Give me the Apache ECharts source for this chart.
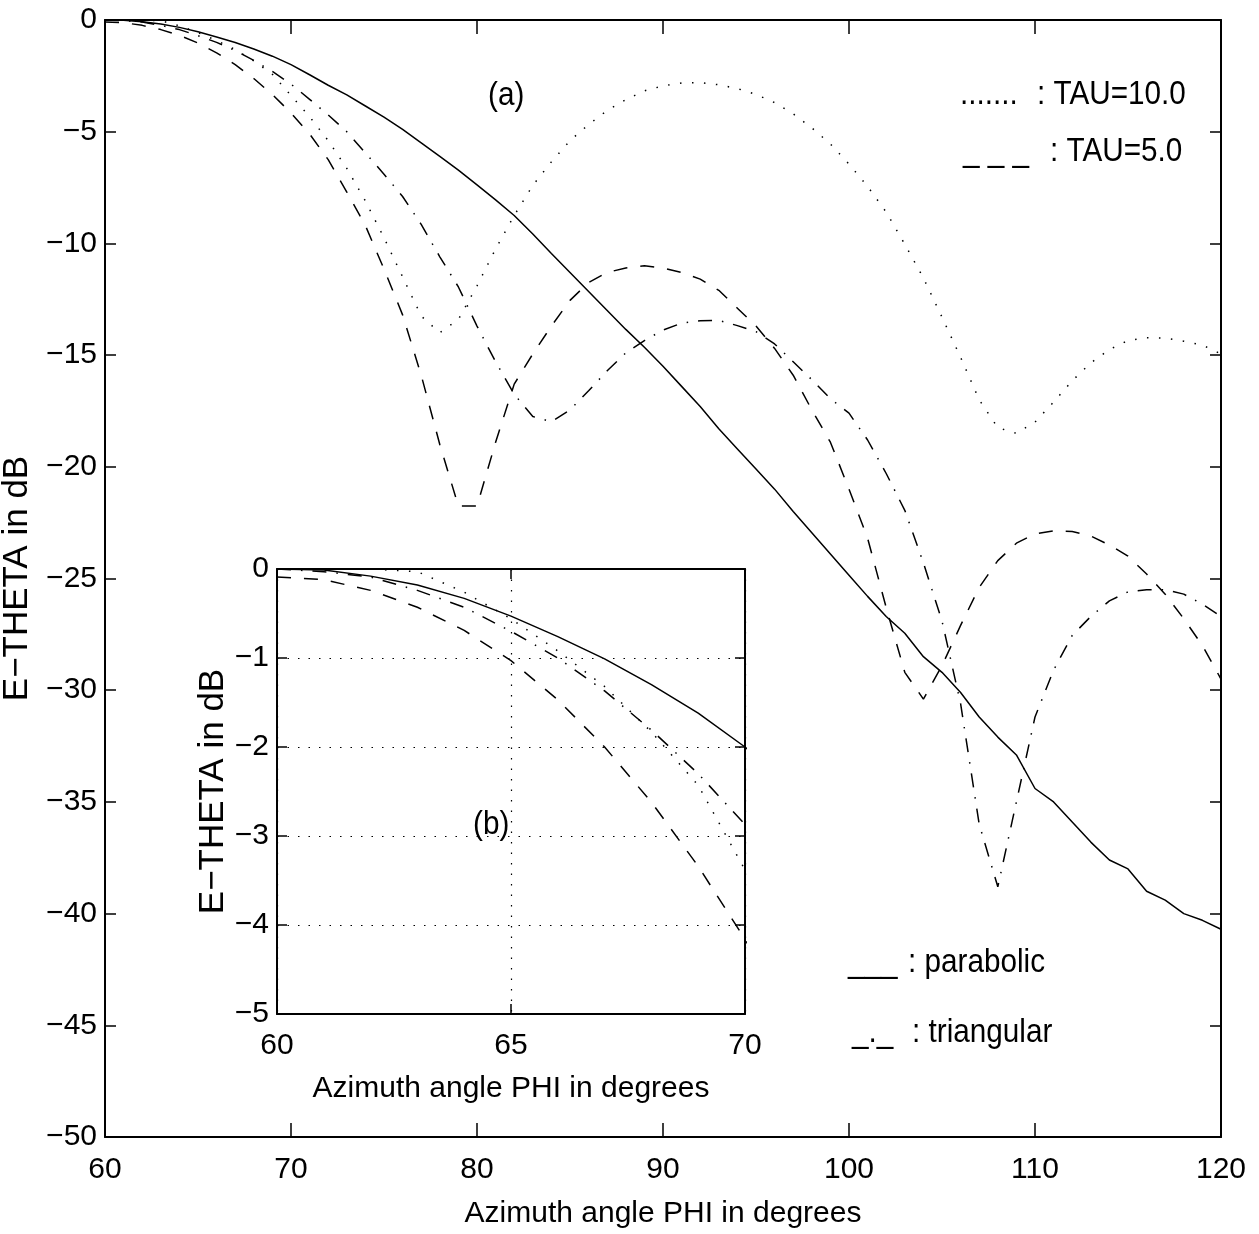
<!DOCTYPE html>
<html>
<head>
<meta charset="utf-8">
<script src="https://cdn.jsdelivr.net/npm/echarts@6/dist/echarts.min.js"></script>
<style>
html,body{margin:0;padding:0;background:#fff;}
#chart{width:1259px;height:1234px;}
</style>
</head>
<body>
<div id="chart"></div>
<script>
// Azimuth angle PHI (degrees)
var phi = [60,61,62,63,64,65,66,67,68,69,70,71,72,73,74,75,76,77,78,79,80,81,82,83,84,85,86,87,88,89,90,
           91,92,93,94,95,96,97,98,99,100,101,102,103,104,105,106,107,108,109,110,111,112,113,114,115,116,117,118,119,120];
// E-THETA in dB, solid curve (parabolic)
var parabolic = [0,-0.01,-0.08,-0.18,-0.33,-0.53,-0.76,-1.01,-1.3,-1.62,-2.0,-2.45,-2.92,-3.35,-3.85,-4.35,-4.9,-5.5,-6.1,-6.72,-7.38,
                 -8.05,-8.75,-9.58,-10.45,-11.3,-12.15,-13.0,-13.85,-14.65,-15.5,-16.4,-17.3,-18.3,-19.2,-20.1,-21.0,-22.0,-22.95,-23.9,-24.85,
                 -25.8,-26.7,-27.45,-28.5,-29.2,-30.1,-31.2,-32.1,-32.9,-34.4,-35.0,-35.9,-36.8,-37.6,-38.0,-39.0,-39.4,-40.0,-40.3,-40.7];
// dotted curve (TAU=10.0)
var tau10 = [0,0,0,-0.03,-0.26,-0.56,-0.92,-1.32,-1.83,-2.43,-3.38,-4.33,-5.4,-6.64,-8.1,-9.75,-11.5,-13.25,-14.0,-13.4,-11.9,
             -10.25,-8.75,-7.4,-6.35,-5.4,-4.68,-4.05,-3.57,-3.17,-2.95,-2.82,-2.8,-2.9,-3.07,-3.33,-3.7,-4.2,-4.83,-5.55,-6.45,
             -7.45,-8.6,-10.04,-11.55,-13.3,-15.1,-17.0,-18.25,-18.5,-18.0,-17.1,-16.15,-15.35,-14.75,-14.35,-14.22,-14.24,-14.38,-14.55,-14.95];
// dashed curve (TAU=5.0)
var tau5 = [-0.09,-0.12,-0.24,-0.43,-0.69,-1.03,-1.47,-2.0,-2.62,-3.34,-4.16,-5.1,-6.25,-7.7,-9.2,-11.15,-13.2,-15.9,-19.0,-21.76,-21.76,
            -18.9,-16.3,-14.95,-13.7,-12.55,-11.75,-11.3,-11.1,-11.0,-11.1,-11.3,-11.6,-12.1,-12.9,-13.7,-14.7,-15.9,-17.45,-18.9,-21.0,
            -23.2,-26.3,-29.2,-30.4,-28.9,-27.1,-25.4,-24.2,-23.42,-23.0,-22.87,-22.9,-23.1,-23.5,-24.0,-24.8,-25.7,-26.8,-28.0,-29.5];
// dash-dot curve (triangular)
var triangular = [0,-0.03,-0.09,-0.24,-0.43,-0.70,-1.0,-1.37,-1.81,-2.3,-2.87,-3.55,-4.25,-5.0,-5.95,-6.9,-7.9,-9.15,-10.6,-11.95,-13.7,
                  -15.3,-16.75,-17.75,-17.98,-17.45,-16.6,-15.7,-14.9,-14.35,-13.88,-13.57,-13.46,-13.45,-13.68,-13.95,-14.5,-15.3,-16.1,-16.95,-17.6,
                  -18.8,-20.3,-21.95,-24.3,-26.9,-30.6,-36.0,-38.8,-35.0,-31.2,-29.1,-27.55,-26.7,-26.0,-25.6,-25.5,-25.5,-25.7,-26.15,-26.7];

var FONT = '"Liberation Sans", Arial, Helvetica, sans-serif';
var FS = 30;
function pairs(ys){ return phi.map(function(x,i){ return [x, ys[i]]; }); }
function minus(v){ return v < 0 ? '\u2212' + Math.abs(v) : String(v); }

var styles = {
  solid:   {type:'solid'},
  dotted:  {type:[1.5, 10.5]},
  dashed:  {type:[14, 13]},
  dashdot: {type:[14, 10, 1.5, 10]}
};
var curves = [
  {name:'parabolic', data:parabolic, dash:styles.solid},
  {name:'TAU=10.0',  data:tau10,     dash:styles.dotted},
  {name:'TAU=5.0',   data:tau5,      dash:styles.dashed},
  {name:'triangular',data:triangular,dash:styles.dashdot}
];

function axisBase(extra){
  var a = {
    type:'value',
    axisLine:{show:true, onZero:false, lineStyle:{color:'#000', width:2}},
    axisTick:{show:true, inside:true, lineStyle:{color:'#000', width:1.5}},
    axisLabel:{show:true, color:'#000', fontSize:FS, fontFamily:FONT, formatter:minus},
    splitLine:{show:false}
  };
  for (var k in extra) a[k] = extra[k];
  return a;
}

var xAxes = [
  axisBase({gridIndex:0, position:'bottom', min:60, max:120, interval:10,
    axisTick:{show:true, inside:true, length:14, lineStyle:{color:'#000', width:1.5}},
    axisLabel:{color:'#000', fontSize:FS, fontFamily:FONT, margin:18, formatter:minus},
    name:'Azimuth angle PHI in degrees', nameLocation:'middle', nameGap:62,
    nameTextStyle:{color:'#000', fontSize:FS, fontFamily:FONT}}),
  axisBase({gridIndex:0, position:'top', min:60, max:120, interval:10,
    axisTick:{show:true, inside:true, length:14, lineStyle:{color:'#000', width:1.5}},
    axisLabel:{show:false}}),
  axisBase({gridIndex:1, position:'bottom', min:60, max:70, interval:5,
    axisTick:{show:true, inside:true, length:10, lineStyle:{color:'#000', width:1.5}},
    axisLabel:{color:'#000', fontSize:FS, fontFamily:FONT, margin:17, formatter:minus},
    splitLine:{show:true, lineStyle:{color:'#000', width:1.2, type:[1.5, 9]}},
    name:'Azimuth angle PHI in degrees', nameLocation:'middle', nameGap:60,
    nameTextStyle:{color:'#000', fontSize:FS, fontFamily:FONT}}),
  axisBase({gridIndex:1, position:'top', min:60, max:70, interval:5,
    axisTick:{show:true, inside:true, length:10, lineStyle:{color:'#000', width:1.5}},
    axisLabel:{show:false}})
];
var yAxes = [
  axisBase({gridIndex:0, position:'left', min:-50, max:0, interval:5,
    axisTick:{show:true, inside:true, length:11, lineStyle:{color:'#000', width:1.5}},
    axisLabel:{color:'#000', fontSize:FS, fontFamily:FONT, margin:8, formatter:minus},
    name:'E\u2212THETA in dB', nameLocation:'middle', nameGap:53, nameRotate:90,
    nameTextStyle:{color:'#000', fontSize:35, fontFamily:FONT}}),
  axisBase({gridIndex:0, position:'right', min:-50, max:0, interval:5,
    axisTick:{show:true, inside:true, length:11, lineStyle:{color:'#000', width:1.5}},
    axisLabel:{show:false}}),
  axisBase({gridIndex:1, position:'left', min:-5, max:0, interval:1,
    axisTick:{show:true, inside:true, length:10, lineStyle:{color:'#000', width:1.5}},
    axisLabel:{color:'#000', fontSize:FS, fontFamily:FONT, margin:8, formatter:minus},
    splitLine:{show:true, lineStyle:{color:'#000', width:1.2, type:[1.5, 9]}},
    name:'E\u2212THETA in dB', nameLocation:'middle', nameGap:41, nameRotate:90,
    nameTextStyle:{color:'#000', fontSize:35, fontFamily:FONT}}),
  axisBase({gridIndex:1, position:'right', min:-5, max:0, interval:1,
    axisTick:{show:true, inside:true, length:10, lineStyle:{color:'#000', width:1.5}},
    axisLabel:{show:false}})
];

var series = [];
curves.forEach(function(c){
  series.push({type:'line', name:c.name, xAxisIndex:0, yAxisIndex:0, data:pairs(c.data),
    symbol:'none', smooth:false, clip:true, silent:true,
    lineStyle:{color:'#000', width:1.5, type:c.dash.type, cap:'butt'}});
  series.push({type:'line', name:c.name+' (b)', xAxisIndex:2, yAxisIndex:2, data:pairs(c.data),
    symbol:'none', smooth:false, clip:true, silent:true,
    lineStyle:{color:'#000', width:1.5, type:c.dash.type, cap:'butt'}});
});

function txt(x, y, s){
  return {type:'text', x:x, y:y, scaleX:0.9, scaleY:1, silent:true, z:100,
    style:{text:s, fill:'#000', fontSize:33, fontFamily:FONT, align:'left', verticalAlign:'middle',
           textAlign:'left', textVerticalAlign:'middle'}};
}

var chart = echarts.init(document.getElementById('chart'), null, {renderer:'canvas'});
chart.setOption({
  animation:false,
  backgroundColor:'#fff',
  grid:[
    {left:105, top:20, width:1116, height:1117, containLabel:false, outerBoundsMode:'none'},
    {left:277, top:569, width:468, height:445, containLabel:false, outerBoundsMode:'none',
     show:true, backgroundColor:'#fff', borderWidth:0}
  ],
  xAxis:xAxes,
  yAxis:yAxes,
  series:series,
  graphic:[
    txt(488, 96, '(a)'),
    txt(960, 95, '.......'),
    txt(1037, 95, ': TAU=10.0'),
    txt(963, 152, '_ _ _'),
    txt(1050, 152, ': TAU=5.0'),
    txt(848, 963, '___'),
    txt(908, 963, ': parabolic'),
    txt(852, 1033, '_._'),
    txt(912, 1033, ': triangular'),
    txt(473, 825, '(b)')
  ]
});
</script>
</body>
</html>
